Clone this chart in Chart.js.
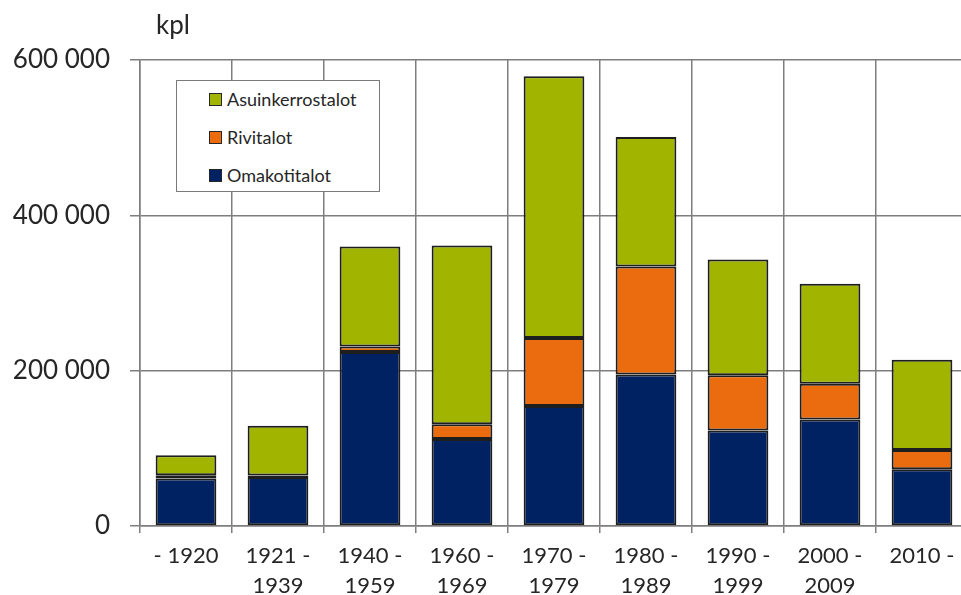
<!DOCTYPE html>
<html>
<head>
<meta charset="utf-8">
<script src="https://cdn.jsdelivr.net/npm/chart.js@4/dist/chart.umd.min.js"></script>
<style>
  html, body { margin: 0; padding: 0; background: #fff; overflow: hidden; }
  #wrap { position: relative; width: 961px; height: 595px; overflow: hidden; }
  #c { position: absolute; left: 0; top: 0; }
  #unit { position: absolute; left: 156px; top: 8px; font: 26px Lato, sans-serif; color: #262626; }
  #legend { position: absolute; left: 176px; top: 80px; width: 204px; height: 112px;
            border: 1.5px solid #7a7a7a; background: #fff; box-sizing: border-box; }
  .li { position: absolute; left: 32px; height: 20px; display: flex; align-items: center;
        font: 18px Lato, sans-serif; color: #262626; white-space: nowrap; }
  .sw { width: 13px; height: 13px; border: 1.5px solid #262626; box-sizing: border-box; margin-right: 5px; }
</style>
</head>
<body>
<div id="wrap">
  <canvas id="c" width="980" height="595"></canvas>
  <div id="unit">kpl</div>
  <div id="legend"></div>
</div>
<script>
const categories = [["- 1920"], ["1921 -", "1939"], ["1940 -", "1959"], ["1960 -", "1969"], ["1970 -", "1979"], ["1980 -", "1989"], ["1990 -", "1999"], ["2000 -", "2009"], ["2010 -"]];
const omakotitalot = [61000, 63000, 224000, 112000, 154500, 195000, 123000, 137000, 73000];
const rivitalot = [4500, 2000, 7000, 19000, 87500, 139000, 71000, 46000, 25000];
const asuinkerrostalot = [25500, 64000, 129000, 230000, 337000, 167000, 149000, 129000, 116000];
const yTicks = [0, 200000, 400000, 600000];

const seriesNames = ["Omakotitalot", "Rivitalot", "Asuinkerrostalot"];
const seriesColors = ["#002262", "#EA6C0E", "#A0B400"];
const seriesData = [omakotitalot, rivitalot, asuinkerrostalot];

const datasets = seriesNames.map((n, i) => ({
  label: n,
  data: seriesData[i],
  backgroundColor: seriesColors[i],
  borderColor: "#1e1e1e",
  borderWidth: 2,
  borderSkipped: false,
  categoryPercentage: 1.0,
  barPercentage: 0.66
}));

const gridColor = "#7e7e7e";

new Chart(document.getElementById("c"), {
  type: "bar",
  data: { labels: categories, datasets },
  options: {
    responsive: false,
    animation: false,
    devicePixelRatio: 1,
    layout: { padding: { top: 60, left: 0, right: 12, bottom: 0 } },
    plugins: { legend: { display: false }, tooltip: { enabled: false }, title: { display: false } },
    scales: {
      x: {
        stacked: true,
        grid: { color: gridColor, lineWidth: 1.5, offset: true, tickLength: 7, drawTicks: true },
        border: { color: gridColor, width: 1.5 },
        ticks: { color: "#262626", font: { family: "Lato", size: 22, lineHeight: 1.36 }, padding: 8, maxRotation: 0, autoSkip: false },
        afterFit: s => { s.height = 69; }
      },
      y: {
        stacked: true,
        min: 0, max: 600000,
        afterBuildTicks: s => { s.ticks = yTicks.map(v => ({ value: v })); },
        grid: { color: gridColor, lineWidth: 1.5, tickLength: 10, drawTicks: true },
        border: { color: gridColor, width: 1.5 },
        ticks: {
          color: "#262626", font: { family: "Lato", size: 26 }, padding: 20,
          callback: v => String(v).replace(/\B(?=(\d{3})+(?!\d))/g, " ")
        },
        afterFit: s => { s.width = 140; }
      }
    }
  }
});

const leg = document.getElementById("legend");
const rows = [2, 1, 0];
rows.forEach((si, k) => {
  const d = document.createElement("div");
  d.className = "li";
  d.style.top = (8 + k * 38) + "px";
  d.innerHTML = '<span class="sw" style="background:' + seriesColors[si] + '"></span>' + seriesNames[si];
  leg.appendChild(d);
});
</script>
</body>
</html>
